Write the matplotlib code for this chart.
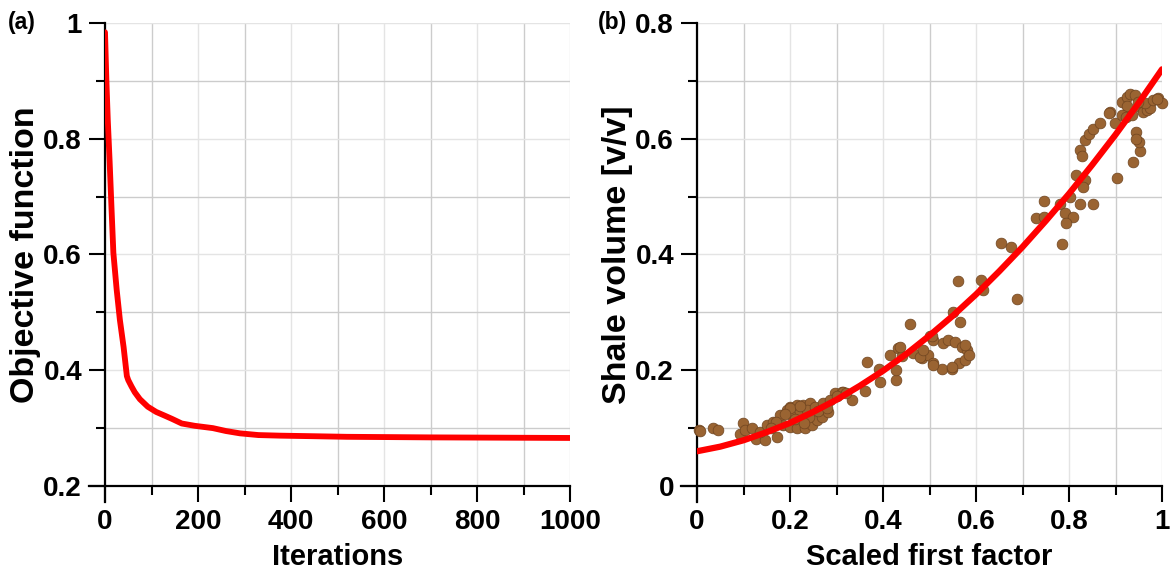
import numpy as np
import matplotlib
matplotlib.use("Agg")
import matplotlib.pyplot as plt
from matplotlib.ticker import MultipleLocator

plt.rcParams['font.family'] = ['Liberation Sans', 'DejaVu Sans']
plt.rcParams['font.weight'] = 'bold'

# (a) objective function vs iterations
iters = [0, 3, 6, 10, 14, 18, 25, 32, 40, 47, 50, 57, 64, 75, 92, 110, 130,
         144, 165, 193, 232, 260, 290, 330, 376, 450, 520, 700, 1000]
objective = [0.984, 0.90, 0.832, 0.76, 0.68, 0.603, 0.54, 0.487, 0.44, 0.39,
             0.383, 0.372, 0.362, 0.350, 0.337, 0.328, 0.321, 0.316, 0.308,
             0.304, 0.300, 0.295, 0.291, 0.288, 0.287, 0.286, 0.285, 0.284, 0.283]

# (b) shale volume vs scaled first factor
factor = [0.005, 0.006, 0.034, 0.046, 0.098, 0.092, 0.103, 0.118, 0.127, 0.146,
          0.173, 0.135, 0.150, 0.164, 0.178, 0.193, 0.200, 0.214, 0.229, 0.243,
          0.186, 0.200, 0.214, 0.232, 0.247, 0.257, 0.268, 0.282, 0.297, 0.311,
          0.333, 0.207, 0.222, 0.236, 0.254, 0.272, 0.286, 0.200, 0.222, 0.315,
          0.19, 0.21, 0.24, 0.26, 0.28, 0.30, 0.32, 0.17, 0.16, 0.23,
          0.361, 0.366, 0.392, 0.394, 0.428, 0.429, 0.415, 0.433, 0.440, 0.458,
          0.465, 0.483, 0.497, 0.501, 0.508, 0.508, 0.526, 0.530, 0.540, 0.548,
          0.551, 0.555, 0.564, 0.569, 0.576, 0.581, 0.584, 0.576, 0.566, 0.437,
          0.480, 0.487, 0.505, 0.507, 0.548,
          0.747, 0.781, 0.730, 0.746, 0.791, 0.809, 0.794, 0.784, 0.653, 0.675,
          0.561, 0.610, 0.614, 0.688, 0.802, 0.816, 0.834, 0.831, 0.852, 0.824,
          0.903, 0.937, 0.953, 0.951, 0.944, 0.824, 0.827, 0.834, 0.844, 0.852,
          0.867, 0.888, 0.899, 0.913, 0.925, 0.925, 0.932, 0.942, 0.925, 0.915,
          0.923, 0.935, 0.953, 0.960, 0.967, 0.974, 0.963, 0.949, 0.981, 0.992,
          0.999, 0.887, 0.989, 0.944]
shale = [0.096, 0.095, 0.100, 0.096, 0.109, 0.090, 0.097, 0.100, 0.081, 0.079,
         0.084, 0.094, 0.105, 0.111, 0.123, 0.131, 0.137, 0.140, 0.140, 0.143,
         0.105, 0.102, 0.100, 0.100, 0.105, 0.114, 0.120, 0.127, 0.160, 0.163,
         0.149, 0.120, 0.128, 0.131, 0.137, 0.143, 0.149, 0.134, 0.138, 0.163,
         0.125, 0.115, 0.120, 0.130, 0.135, 0.155, 0.160, 0.110, 0.100, 0.108,
         0.165, 0.214, 0.203, 0.180, 0.183, 0.200, 0.226, 0.238, 0.225, 0.280,
         0.229, 0.221, 0.226, 0.259, 0.212, 0.252, 0.203, 0.247, 0.253, 0.203,
         0.301, 0.249, 0.212, 0.241, 0.218, 0.235, 0.226, 0.244, 0.284, 0.241,
         0.223, 0.235, 0.259, 0.209, 0.206,
         0.493, 0.488, 0.463, 0.464, 0.471, 0.465, 0.455, 0.419, 0.420, 0.413,
         0.355, 0.356, 0.339, 0.323, 0.500, 0.537, 0.529, 0.517, 0.487, 0.487,
         0.533, 0.559, 0.578, 0.595, 0.612, 0.581, 0.570, 0.597, 0.608, 0.617,
         0.628, 0.646, 0.628, 0.664, 0.644, 0.673, 0.678, 0.675, 0.657, 0.641,
         0.637, 0.641, 0.655, 0.647, 0.650, 0.653, 0.662, 0.664, 0.667, 0.670,
         0.661, 0.645, 0.668, 0.600]

# fitted trend
fit_x = [0.0, 0.05, 0.1, 0.15, 0.2, 0.25, 0.3, 0.35, 0.4, 0.45, 0.5,
         0.55, 0.6, 0.65, 0.7, 0.75, 0.8, 0.85, 0.9, 0.95, 1.0]
fit_y = [0.060, 0.068, 0.079, 0.093, 0.109, 0.128, 0.149, 0.173, 0.199, 0.228,
         0.260, 0.294, 0.331, 0.371, 0.413, 0.458, 0.505, 0.555, 0.607, 0.662, 0.720]

RED = '#ff0000'
BROWN = '#9a6432'


def style_axes(ax, xlim, ylim, xmajor, xminor, ymajor, yminor):
    ax.set_xlim(*xlim)
    ax.set_ylim(*ylim)
    ax.xaxis.set_major_locator(MultipleLocator(xmajor))
    ax.xaxis.set_minor_locator(MultipleLocator(xminor))
    ax.yaxis.set_major_locator(MultipleLocator(ymajor))
    ax.yaxis.set_minor_locator(MultipleLocator(yminor))
    ax.grid(which='major', color='#e4e4e4', lw=1.0)
    ax.grid(which='minor', color='#cccccc', lw=1.0)
    ax.set_axisbelow(True)
    for s in ('top', 'right'):
        ax.spines[s].set_visible(False)
    for s in ('left', 'bottom'):
        ax.spines[s].set_linewidth(1.6)
    # spines run past the corner by one major tick length, as in the original
    ext_x = (xlim[1] - xlim[0]) * 16 / 465
    ext_y = (ylim[1] - ylim[0]) * 16 / 463
    ax.spines['bottom'].set_bounds(xlim[0] - ext_x, xlim[1])
    ax.spines['left'].set_bounds(ylim[0] - ext_y, ylim[1])
    ax.tick_params(which='major', direction='out', length=11.5, width=1.5,
                   labelsize=20, pad=5)
    ax.tick_params(which='minor', direction='out', length=6.5, width=1.5)
    ax.xaxis.set_major_formatter(plt.FuncFormatter(lambda v, p: f'{v:g}'))
    ax.yaxis.set_major_formatter(plt.FuncFormatter(lambda v, p: f'{v:g}'))


fig = plt.figure(figsize=(11.71, 5.72), dpi=100)
ax1 = fig.add_axes([105 / 1171, 86 / 572, 465 / 1171, 463 / 572])
ax2 = fig.add_axes([697 / 1171, 86 / 572, 465 / 1171, 463 / 572])

ax1.plot(iters, objective, color=RED, lw=4.2, solid_capstyle='round',
         solid_joinstyle='round', zorder=3)
style_axes(ax1, (0, 1000), (0.2, 1.0), 200, 100, 0.2, 0.1)
ax1.set_xlabel('Iterations', fontsize=21, fontweight='bold', labelpad=6)
ax1.set_ylabel('Objective function', fontsize=24.5, fontweight='bold', labelpad=2)

ax2.scatter(factor, shale, s=60, color=BROWN, edgecolors='#6e4420', linewidths=0.5,
            zorder=3, clip_on=False)
ax2.plot(fit_x, fit_y, color=RED, lw=4.5, solid_capstyle='round',
         solid_joinstyle='round', zorder=4)
style_axes(ax2, (0, 1), (0, 0.8), 0.2, 0.1, 0.2, 0.1)
ax2.set_xlabel('Scaled first factor', fontsize=21, fontweight='bold', labelpad=6)
ax2.set_ylabel('Shale volume [v/v]', fontsize=24.5, fontweight='bold', labelpad=2)

fig.text(8 / 1171, 1 - 22 / 572, '(a)', fontsize=16.5, fontweight='bold', va='center')
fig.text(598 / 1171, 1 - 22 / 572, '(b)', fontsize=16.5, fontweight='bold', va='center')

fig.savefig('out.png', dpi=100)
